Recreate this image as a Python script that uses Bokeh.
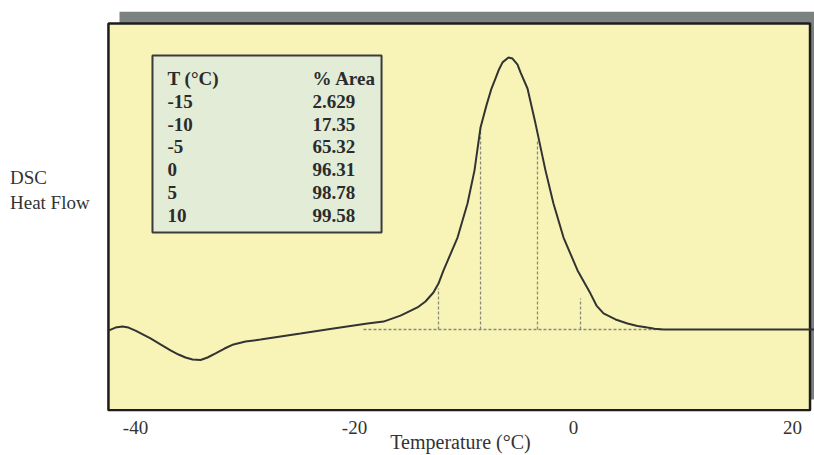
from bokeh.plotting import figure
from bokeh.models import Range1d, FixedTicker, ColumnDataSource, Div
from bokeh.layouts import row
from bokeh.core.properties import value
from bokeh.embed import file_html
from bokeh.resources import INLINE

# ---- data ----
curve_t = [-42.47, -41.83, -41.19, -40.64, -40.00, -38.63, -37.72, -36.80, -36.07,
           -35.43, -34.79, -34.06, -33.42, -32.69, -31.87, -31.05, -29.95, -28.58,
           -24.93, -21.92, -18.81, -17.35, -15.80, -14.25, -13.52, -12.79, -12.33,
           -11.87, -10.59, -9.68, -9.04, -8.49, -7.95, -7.49, -7.12, -6.85, -6.48,
           -5.94, -5.57, -5.11, -4.84, -4.20, -3.47, -2.56, -1.83, -0.91, 0.37,
           1.55, 2.10, 2.74, 3.84, 4.93, 5.84, 6.76, 7.40, 8.22, 22.0]
curve_v = [-0.04, 0.07, 0.11, 0.07, -0.04, -0.33, -0.55, -0.77, -0.92,
           -1.03, -1.10, -1.12, -1.03, -0.88, -0.70, -0.55, -0.44, -0.37,
           -0.15, 0.04, 0.22, 0.29, 0.51, 0.81, 1.03, 1.36, 1.69,
           2.17, 3.38, 4.63, 5.85, 7.43, 8.24, 8.86, 9.23, 9.52, 9.82,
           10.0, 9.96, 9.74, 9.45, 8.86, 7.57, 5.85, 4.63, 3.38, 2.17,
           1.32, 0.88, 0.59, 0.37, 0.22, 0.13, 0.07, 0.03, 0.0, 0.0]

baseline_t = [-19.18, 8.22]
baseline_v = [0.0, 0.0]

drop_t = [-12.33, -8.49, -3.29, 0.64]
drop_top = [1.51, 7.50, 6.95, 1.14]

table_temps = ["-15", "-10", "-5", "0", "5", "10"]
table_areas = ["2.629", "17.35", "65.32", "96.31", "98.78", "99.58"]
table_headers = ["T (°C)", "% Area"]

tick_values = [-40, -20, 0, 20]
tick_labels = ["-40", "-20", "0", "20"]

y_title_lines = ["DSC", "Heat Flow"]

# ---- figure ----
p = figure(width=708, height=455,
           x_range=Range1d(-42.648, 22.009), y_range=Range1d(-3.015, 11.691),
           output_backend="svg", toolbar_location=None,
           min_border_left=0, min_border_right=0,
           min_border_top=11, min_border_bottom=44)
p.background_fill_color = "white"
p.border_fill_color = "white"
p.outline_line_color = None
p.grid.visible = False
p.yaxis.visible = False

ax = p.xaxis[0]
ax.ticker = FixedTicker(ticks=tick_values)
ax.major_label_overrides = {v: s for v, s in zip(tick_values, tick_labels)}
ax.major_tick_line_color = None
ax.minor_tick_line_color = None
ax.axis_line_color = None
ax.major_label_standoff = 3
ax.major_label_text_font = "Liberation Serif"
ax.major_label_text_font_size = "19px"
ax.major_label_text_color = "#333333"
ax.axis_label = "Temperature (°C)"
ax.axis_label_standoff = -6
ax.axis_label_text_font = "Liberation Serif"
ax.axis_label_text_font_style = "normal"
ax.axis_label_text_font_size = "20px"
ax.axis_label_text_color = "#333333"

# shadow and panel
p.quad(left=-41.46, right=25.0, top=11.69, bottom=-2.57,
       fill_color="#7c8282", line_color=None)
p.quad(left=-42.47, right=21.60, top=11.25, bottom=-2.97,
       fill_color="#F8F4B8", line_color="#1c1c1c", line_width=2.5)

# dashed baseline and drop lines
p.line(baseline_t, baseline_v, line_color="#8a8a78", line_width=1.3, line_dash="3 2")
p.segment(x0=drop_t, y0=[0.0] * len(drop_t), x1=drop_t, y1=drop_top,
          line_color="#8a8a78", line_width=1.3, line_dash="3 2")

# curve
p.line(curve_t, curve_v, line_color="#333333", line_width=2)

# table box
p.quad(left=-38.45, right=-17.53, top=10.07, bottom=3.57,
       fill_color="#E3ECD6", line_color="#3a3a3a", line_width=2)

row_top = 9.23
row_step = 0.84
col1 = -37.08
col2 = -23.84
n = len(table_temps)
rows_y = [row_top - (i + 1) * row_step for i in range(n)]
src = ColumnDataSource(dict(
    x=[col1] * n + [col2] * n + [col1, col2],
    y=rows_y + rows_y + [row_top, row_top],
    t=table_temps + table_areas + table_headers,
))
p.text(x="x", y="y", text="t", source=src,
       text_font=value("Liberation Serif"), text_font_style="bold",
       text_font_size="19px", text_baseline="middle", text_align="left",
       text_color="#2b2b2b")

# y-axis description (left margin)
div = Div(text="<br>".join(y_title_lines), width=106, height=455,
          styles={"font-family": "Liberation Serif", "font-size": "19px",
                  "line-height": "25px", "color": "#333333",
                  "padding-top": "165px", "padding-left": "10px",
                  "box-sizing": "border-box", "margin": "0"})

layout = row(div, p, spacing=0)
open("out.html", "w").write(file_html(layout, INLINE))
